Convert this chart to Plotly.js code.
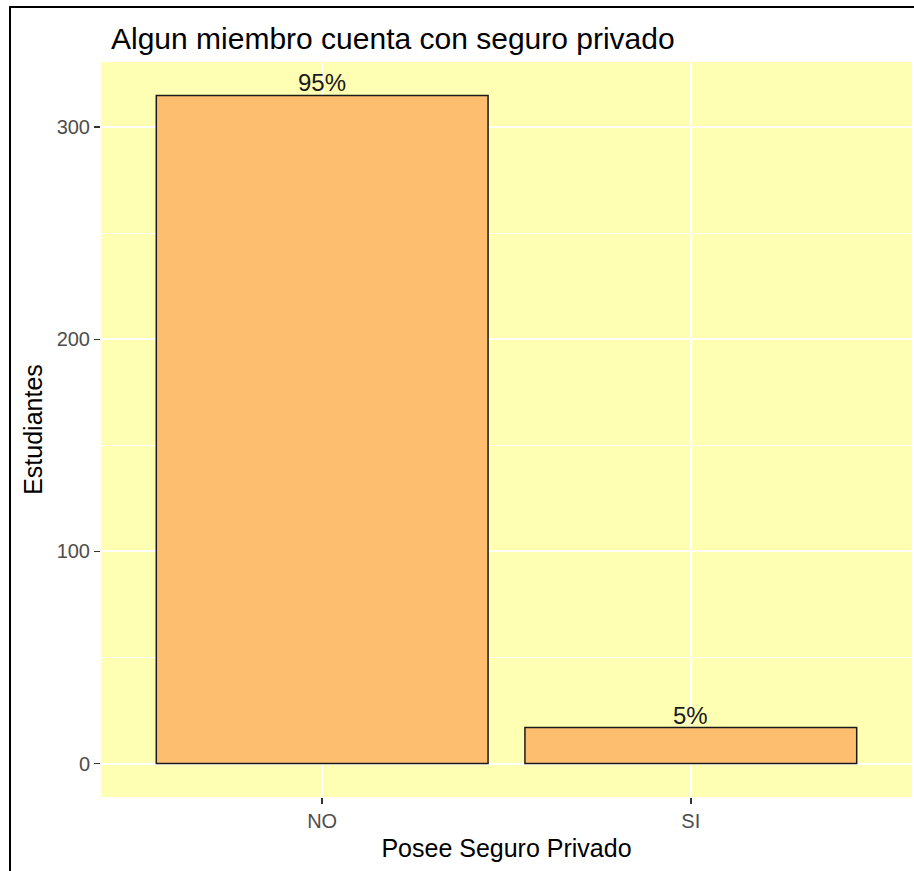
<!DOCTYPE html>
<html>
<head>
<meta charset="utf-8">
<script src="https://cdn.plot.ly/plotly-3.0.1.min.js"></script>
<style>
  html, body { margin: 0; padding: 0; background: #ffffff; }
  #chart { width: 914px; height: 871px; position: relative; }
  #frame { position: absolute; left: 9px; top: 6px; width: 914px; height: 871px;
           border-left: 2px solid #000; border-top: 2px solid #000; pointer-events: none; box-sizing: border-box; }
</style>
</head>
<body>
<div id="chart"></div>
<div id="frame"></div>
<script>
const categories = ["NO", "SI"];
const students = [315, 17];
const percentLabels = ["95%", "5%"];

const font = "Liberation Sans, Arial, sans-serif";

const trace = {
  type: "bar",
  x: categories,
  y: students,
  width: 0.9,
  marker: { color: "#FDBF6F", line: { color: "#1a1a1a", width: 1.5 } },
  hoverinfo: "skip"
};

const annotations = categories.map((c, i) => ({
  x: c, y: students[i], xref: "x", yref: "y",
  text: percentLabels[i], showarrow: false,
  yanchor: "bottom", yshift: -3,
  font: { family: font, size: 24, color: "#1a1a1a" }
}));

const yRange = [-15.75, 330.75];

const layout = {
  width: 914, height: 871,
  margin: { l: 101, r: 2, t: 62, b: 74 },
  paper_bgcolor: "#ffffff",
  plot_bgcolor: "#FFFFB3",
  showlegend: false,
  bargap: 0.1,
  title: {
    text: "Algun miembro cuenta con seguro privado",
    x: 111 / 914, xref: "container", xanchor: "left",
    y: 1 - 38 / 871, yref: "container", yanchor: "middle",
    font: { family: font, size: 30, color: "#000000" }
  },
  xaxis: {
    type: "category",
    range: [-0.6, 1.6],
    showgrid: true, gridcolor: "#ffffff", gridwidth: 2,
    zeroline: false, showline: false,
    ticks: "outside", ticklen: 6, tickwidth: 1.5, tickcolor: "#333333",
    tickfont: { family: font, size: 20, color: "#4D4D4D" },
    title: { text: "Posee Seguro Privado", standoff: 8,
             font: { family: font, size: 25, color: "#000000" } }
  },
  yaxis: {
    range: yRange,
    tickvals: [0, 100, 200, 300],
    showgrid: true, gridcolor: "#ffffff", gridwidth: 2,
    zeroline: false, showline: false,
    ticks: "outside", ticklen: 6, tickwidth: 1.5, tickcolor: "#333333",
    tickfont: { family: font, size: 20, color: "#4D4D4D" },
    title: { text: "Estudiantes", standoff: 6,
             font: { family: font, size: 25, color: "#000000" } }
  },
  yaxis2: {
    overlaying: "y",
    range: yRange,
    tickvals: [50, 150, 250],
    showgrid: true, gridcolor: "#ffffff", gridwidth: 1.2,
    zeroline: false, showline: false,
    showticklabels: false, ticks: ""
  },
  annotations: annotations
};

const gridTrace = { type: "scatter", x: categories, y: [null, null], yaxis: "y2", hoverinfo: "skip", showlegend: false };

Plotly.newPlot("chart", [trace, gridTrace], layout, { displayModeBar: false, staticPlot: true });
</script>
</body>
</html>
